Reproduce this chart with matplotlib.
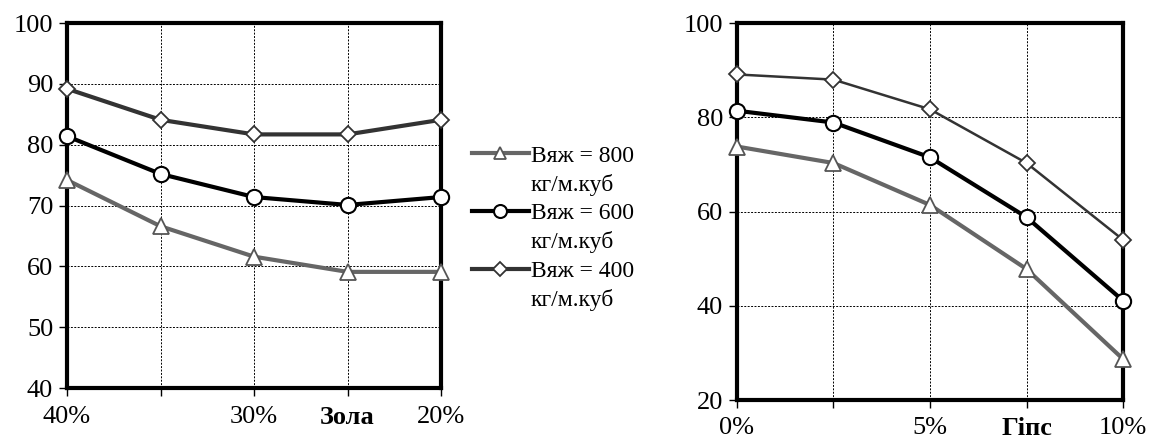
import matplotlib.pyplot as plt
from matplotlib.lines import Line2D

plt.rcParams['font.family'] = ['Liberation Serif', 'DejaVu Serif']
plt.rcParams['font.size'] = 14

# left chart: ash content
ash_x = [40, 35, 30, 25, 20]
ash_labels = ["40%", "", "30%", "Зола", "20%"]
ash_800 = [74.2, 66.6, 61.6, 59.1, 59.1]
ash_600 = [81.4, 75.2, 71.4, 70.1, 71.4]
ash_400 = [89.2, 84.1, 81.7, 81.7, 84.1]

# right chart: gypsum content
gyps_x = [0, 2.5, 5, 7.5, 10]
gyps_labels = ["0%", "", "5%", "Гіпс", "10%"]
gyps_800 = [73.8, 70.3, 61.4, 47.8, 28.7]
gyps_600 = [81.4, 78.9, 71.5, 58.8, 41.1]
gyps_400 = [89.1, 88.0, 81.7, 70.3, 54.0]

series_names = ["Вяж = 800", "Вяж = 600", "Вяж = 400"]
unit = "кг/м.куб"

fig = plt.figure(figsize=(11.56, 4.44), dpi=100)
ax1 = fig.add_axes([0.058, 0.126, 0.3235, 0.822])
ax2 = fig.add_axes([0.6375, 0.099, 0.334, 0.849])


def style_axes(ax, x, labels, ylim, yticks, xpad):
    ax.set_xlim(x[0], x[-1])
    ax.set_ylim(*ylim)
    ax.set_yticks(yticks)
    ax.set_xticks(x)
    ax.set_xticklabels(labels)
    ax.get_xticklabels()[3].set_fontweight('bold')
    ax.grid(True, color='black', linestyle=(0, (2, 1.5)), linewidth=0.7)
    for s in ax.spines.values():
        s.set_linewidth(3)
        s.set_color('black')
    ax.tick_params(axis='both', direction='out', length=6, width=1, labelsize=19)
    ax.tick_params(axis='y', pad=4)
    ax.tick_params(axis='x', pad=xpad)


def plot_set(ax, x, y800, y600, y400, w400):
    l1, = ax.plot(x, y800, color='#666666', lw=3, marker='^', ms=11,
                  mfc='white', mec='#555555', mew=1.3, clip_on=False, zorder=5)
    l2, = ax.plot(x, y600, color='black', lw=3, marker='o', ms=11,
                  mfc='white', mec='black', mew=1.5, clip_on=False, zorder=5)
    l3, = ax.plot(x, y400, color='#333333', lw=w400, marker='D', ms=8,
                  mfc='white', mec='#333333', mew=1.3, clip_on=False, zorder=5)
    return [l1, l2, l3]


handles = plot_set(ax1, ash_x, ash_800, ash_600, ash_400, 3)
style_axes(ax1, ash_x, ash_labels, (40, 100), range(40, 101, 10), 7)

plot_set(ax2, gyps_x, gyps_800, gyps_600, gyps_400, 1.8)
style_axes(ax2, gyps_x, gyps_labels, (20, 100), range(20, 101, 20), 6)

# legend: each entry takes two text rows, handle beside the first row
blank = Line2D([], [], color='none')
leg_handles, leg_labels = [], []
for h, name in zip(handles, series_names):
    leg_handles += [h, blank]
    leg_labels += [name, unit]

fig.legend(leg_handles, leg_labels, loc='upper left', bbox_to_anchor=(0.398, 0.70),
           frameon=False, fontsize=17, handlelength=2.4, handletextpad=0.1,
           labelspacing=0.3, markerscale=0.85, borderpad=0)

fig.savefig("out.png", dpi=100)
